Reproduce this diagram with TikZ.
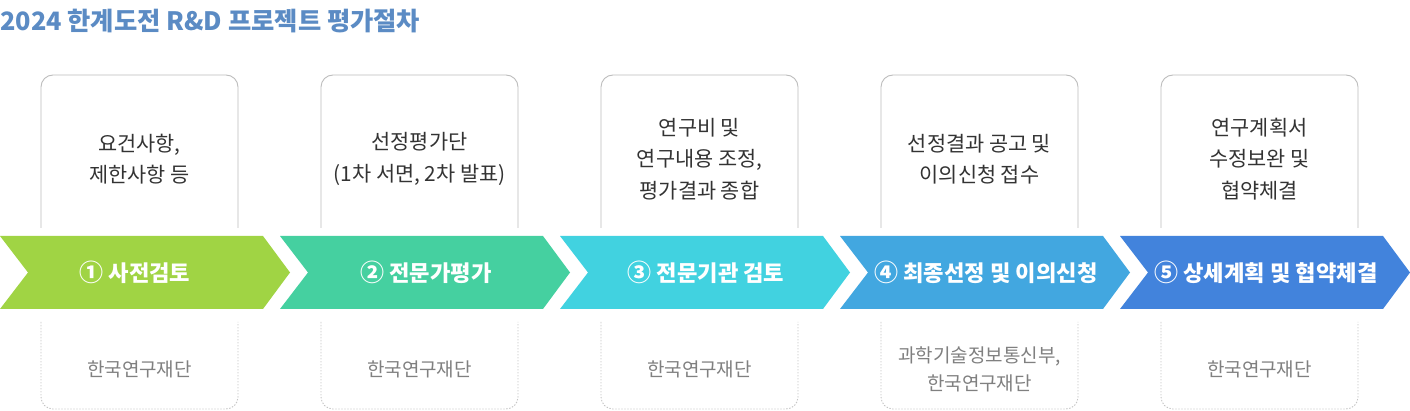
\documentclass[tikz,border=0pt]{standalone}
\usepackage{fontspec}
\setmainfont{Noto Sans CJK KR}
\definecolor{titleblue}{HTML}{5B8BC4}
\definecolor{boxgray}{HTML}{BDBDBD}
\definecolor{dotgray}{HTML}{C4C4C4}
\definecolor{txtdark}{HTML}{333333}
\definecolor{txtgray}{HTML}{808080}
\definecolor{cA}{HTML}{A0D444}
\definecolor{cB}{HTML}{45D0A0}
\definecolor{cC}{HTML}{41D2E0}
\definecolor{cD}{HTML}{42A7E0}
\definecolor{cE}{HTML}{4283DC}
\newcommand{\circnum}[1]{{\fontsize{24}{24}\selectfont #1}}
\begin{document}
\begin{tikzpicture}[x=1pt,y=-1pt,
  topbox/.style={draw=boxgray, line width=0.9pt, rounded corners=12pt},
  botbox/.style={draw=dotgray, line width=0.9pt, dash pattern=on 1.4pt off 1.6pt, rounded corners=12pt},
  toptext/.style={text=txtdark, align=center, font=\fontsize{20.8}{31.5}\selectfont, inner sep=0pt},
  bottext/.style={text=txtgray, align=center, font=\fontsize{19}{28}\selectfont, inner sep=0pt},
  chevlabel/.style={text=white, font=\fontsize{22.2}{26}\selectfont\bfseries, inner sep=0pt},
  titlestyle/.style={text=titleblue, font=\fontsize{25.3}{30}\selectfont\bfseries, inner sep=0pt, anchor=west}]
\useasboundingbox (0,0) rectangle (1410,411);
\fill[white] (0,0) rectangle (1410,411);
\node[titlestyle] (title) at (0,21) {2024 한계도전 R\&D 프로젝트 평가절차};
% top and bottom boxes
\foreach \k in {0,...,4}{
  \draw[topbox] (41+280*\k,228) -- (41+280*\k,75) -- (238+280*\k,75) -- (238+280*\k,228);
  \draw[botbox] (41+280*\k,322) -- (41+280*\k,409) -- (238+280*\k,409) -- (238+280*\k,322);
}
% chevrons
\fill[cA] (0,236) -- (263,236) -- (290,272.5) -- (263,309) -- (0,309) -- (28,272.5) -- cycle;
\fill[cB] (280,236) -- (543,236) -- (570,272.5) -- (543,309) -- (280,309) -- (308,272.5) -- cycle;
\fill[cC] (560,236) -- (823,236) -- (850,272.5) -- (823,309) -- (560,309) -- (588,272.5) -- cycle;
\fill[cD] (840,236) -- (1103,236) -- (1130,272.5) -- (1103,309) -- (840,309) -- (868,272.5) -- cycle;
\fill[cE] (1120,236) -- (1383,236) -- (1410,272.5) -- (1383,309) -- (1120,309) -- (1148,272.5) -- cycle;
% chevron labels
\node[chevlabel] (l1) at (135,272) {\circnum{①} 사전검토};
\node[chevlabel] (l2) at (426,272) {\circnum{②} 전문가평가};
\node[chevlabel] (l3) at (706,272) {\circnum{③} 전문기관 검토};
\node[chevlabel] (l4) at (986,272) {\circnum{④} 최종선정 및 이의신청};
\node[chevlabel] (l5) at (1266,272) {\circnum{⑤} 상세계획 및 협약체결};
% top texts
\node[toptext] (t1) at (139.5,159) {요건사항,\\제한사항 등};
\node[toptext] (t2) at (419.5,159) {선정평가단\\(1차 서면, 2차 발표)};
\node[toptext] (t3) at (699.5,159) {연구비 및\\연구내용 조정,\\평가결과 종합};
\node[toptext] (t4) at (979.5,159) {선정결과 공고 및\\이의신청 접수};
\node[toptext] (t5) at (1259.5,159) {연구계획서\\수정보완 및\\협약체결};
% bottom texts
\node[bottext] (b1) at (139.5,369) {한국연구재단};
\node[bottext] (b2) at (419.5,369) {한국연구재단};
\node[bottext] (b3) at (699.5,369) {한국연구재단};
\node[bottext] (b4) at (979.5,369) {과학기술정보통신부,\\한국연구재단};
\node[bottext] (b5) at (1259.5,369) {한국연구재단};
\end{tikzpicture}
\end{document}
